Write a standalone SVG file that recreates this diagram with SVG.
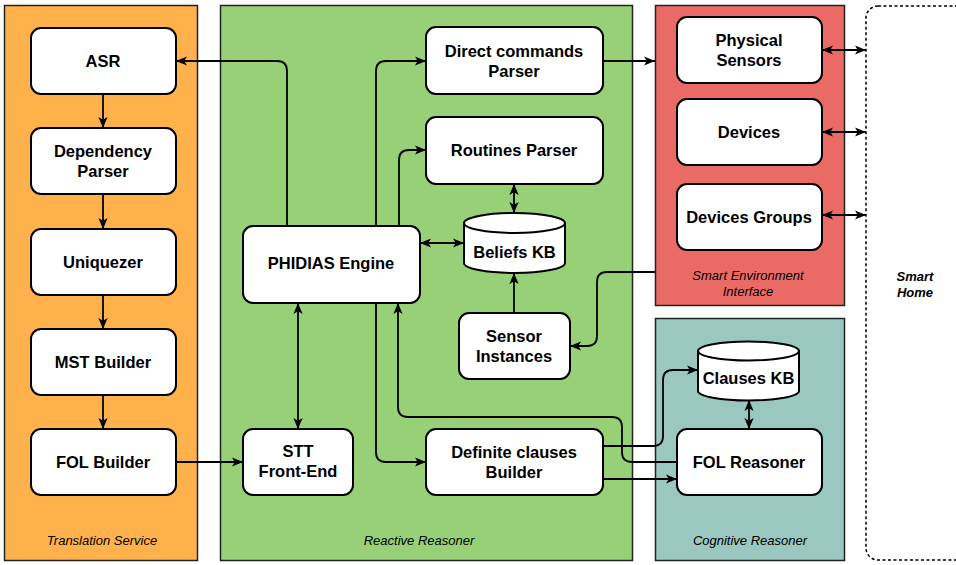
<svg xmlns="http://www.w3.org/2000/svg" width="956" height="565" viewBox="0 0 956 565">
<defs>
<marker id="arr" viewBox="0 0 10 10" refX="10" refY="5" markerWidth="11" markerHeight="11" markerUnits="userSpaceOnUse" orient="auto-start-reverse">
<path d="M0,0.8 L10,5 L0,9.2 L2.5,5 Z" fill="#000"/>
</marker>
<style>
.cont{stroke:#222;stroke-width:1.5}
.node{fill:#fff;stroke:#000;stroke-width:2}
.lbl{font-family:"Liberation Sans",Arial,sans-serif;font-weight:bold;font-size:16.5px;text-anchor:middle;fill:#000}
.clbl{font-family:"Liberation Sans",Arial,sans-serif;font-style:italic;font-size:13px;text-anchor:middle;fill:#000}
.e{fill:none;stroke:#000;stroke-width:1.8;marker-end:url(#arr)}
.d{marker-start:url(#arr)}
</style>
</defs>
<rect width="956" height="565" fill="#fff"/>
<g id="translation-service">
<rect class="cont" x="4.5" y="5.5" width="193" height="555" fill="#FFB24C"/>
<text class="clbl" x="102" y="545">Translation Service</text>
</g>
<g id="reactive-reasoner">
<rect class="cont" x="220.5" y="5.5" width="412" height="555" fill="#97D077"/>
<text class="clbl" x="419" y="545">Reactive Reasoner</text>
</g>
<g id="smart-environment-interface">
<rect class="cont" x="655.5" y="5.5" width="189" height="300" fill="#EA6B66"/>
<text class="clbl" x="748" y="280">Smart Environment</text>
<text class="clbl" x="748" y="296">Interface</text>
</g>
<g id="cognitive-reasoner">
<rect class="cont" x="655.5" y="318.5" width="189" height="242" fill="#9AC7BF"/>
<text class="clbl" x="750" y="545">Cognitive Reasoner</text>
</g>
<g id="smart-home">
<rect x="866" y="6" width="140" height="554" rx="12" fill="#fff" stroke="#000" stroke-width="1.5" stroke-dasharray="3 2.5"/>
<text class="clbl" x="915" y="281" font-weight="bold">Smart</text>
<text class="clbl" x="915" y="297" font-weight="bold">Home</text>
</g>
<g id="asr"><rect class="node" x="31" y="28" width="145" height="66" rx="10"/><text class="lbl" x="103" y="67">ASR</text></g>
<g id="dependency-parser"><rect class="node" x="31" y="128" width="145" height="66" rx="10"/><text class="lbl" x="103" y="157">Dependency</text><text class="lbl" x="103" y="177">Parser</text></g>
<g id="uniquezer"><rect class="node" x="31" y="229" width="145" height="66" rx="10"/><text class="lbl" x="103" y="268">Uniquezer</text></g>
<g id="mst-builder"><rect class="node" x="31" y="329" width="145" height="66" rx="10"/><text class="lbl" x="103" y="368">MST Builder</text></g>
<g id="fol-builder"><rect class="node" x="31" y="429" width="145" height="66" rx="10"/><text class="lbl" x="103" y="468">FOL Builder</text></g>
<g id="phidias-engine"><rect class="node" x="243" y="226" width="177" height="77" rx="10"/><text class="lbl" x="331" y="269">PHIDIAS Engine</text></g>
<g id="stt-front-end"><rect class="node" x="243" y="429" width="110" height="66" rx="10"/><text class="lbl" x="298" y="457">STT</text><text class="lbl" x="298" y="477">Front-End</text></g>
<g id="direct-commands-parser"><rect class="node" x="426" y="27" width="177" height="67" rx="10"/><text class="lbl" x="514" y="57">Direct commands</text><text class="lbl" x="514" y="77">Parser</text></g>
<g id="routines-parser"><rect class="node" x="426" y="117" width="177" height="67" rx="10"/><text class="lbl" x="514" y="156">Routines Parser</text></g>
<g id="beliefs-kb"><path class="node" d="M464,223 A50.5,10 0 0 1 565,223 V263 A50.5,10 0 0 1 464,263 Z"/><path d="M464,223 A50.5,10 0 0 0 565,223" fill="none" stroke="#000" stroke-width="2"/><text class="lbl" x="514.5" y="258">Beliefs KB</text></g>
<g id="sensor-instances"><rect class="node" x="459" y="313" width="111" height="66" rx="10"/><text class="lbl" x="514" y="342">Sensor</text><text class="lbl" x="514" y="362">Instances</text></g>
<g id="definite-clauses-builder"><rect class="node" x="426" y="429" width="177" height="66" rx="10"/><text class="lbl" x="514" y="458">Definite clauses</text><text class="lbl" x="514" y="478">Builder</text></g>
<g id="physical-sensors"><rect class="node" x="677" y="17" width="145" height="66" rx="10"/><text class="lbl" x="749" y="46">Physical</text><text class="lbl" x="749" y="66">Sensors</text></g>
<g id="devices"><rect class="node" x="677" y="99" width="145" height="66" rx="10"/><text class="lbl" x="749" y="138">Devices</text></g>
<g id="devices-groups"><rect class="node" x="677" y="184" width="145" height="66" rx="10"/><text class="lbl" x="749" y="223">Devices Groups</text></g>
<g id="clauses-kb"><path class="node" d="M698,351 A50.5,9.5 0 0 1 799,351 V391 A50.5,9.5 0 0 1 698,391 Z"/><path d="M698,351 A50.5,9.5 0 0 0 799,351" fill="none" stroke="#000" stroke-width="2"/><text class="lbl" x="748.5" y="384">Clauses KB</text></g>
<g id="fol-reasoner"><rect class="node" x="677" y="429" width="145" height="66" rx="10"/><text class="lbl" x="749" y="468">FOL Reasoner</text></g>
<g id="connectors">
<path class="e" d="M103,94 V128"/>
<path class="e" d="M103,194 V229"/>
<path class="e" d="M103,295 V329"/>
<path class="e" d="M103,395 V429"/>
<path class="e" d="M176,462 H243"/>
<path class="e" d="M287,226 V71 Q287,61 277,61 H176"/>
<path class="e" d="M376,226 V71 Q376,61 386,61 H426"/>
<path class="e" d="M399,226 V160 Q399,150 409,150 H426"/>
<path class="e d" d="M514,184 V213"/>
<path class="e d" d="M420,243 H464"/>
<path class="e" d="M514,313 V273"/>
<path class="e" d="M655,272 H607 Q597,272 597,282 V336 Q597,346 587,346 H570"/>
<path class="e d" d="M298,303 V429"/>
<path class="e" d="M376,303 V452 Q376,462 386,462 H426"/>
<path class="e" d="M677,462 H632 Q622,462 622,452 V427 Q622,417 612,417 H408 Q398,417 398,407 V303"/>
<path class="e" d="M603,446 H653 Q663,446 663,436 V380 Q663,370 673,370 H698"/>
<path class="e" d="M603,479 H677"/>
<path class="e d" d="M749,400 V429"/>
<path class="e" d="M603,61 H655"/>
<path class="e d" d="M822,50 H866"/>
<path class="e d" d="M822,132 H866"/>
<path class="e d" d="M822,215 H866"/>
</g>
</svg>
